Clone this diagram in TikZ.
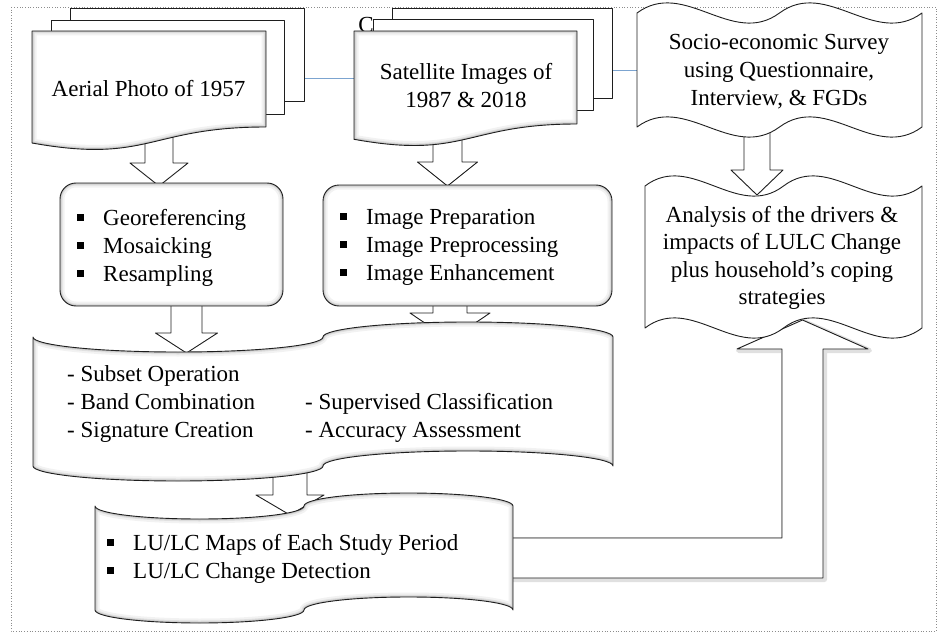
\documentclass[tikz,border=0pt]{standalone}
\usepackage{fontspec}
\setmainfont{Liberation Serif}
\definecolor{linkblue}{RGB}{124,164,208}
\definecolor{edge}{RGB}{30,30,30}
% square bullet followed by the gap before the item text
\newcommand\sqbul{\makebox[26pt][l]{\rule[4.5pt]{7pt}{7pt}}}
% soft inner shading along the border of a closed path
\newcommand\softedge[1]{%
  \begin{scope}
    \clip #1;
    \draw[line width=9pt, black, opacity=0.05] #1;
    \draw[line width=5pt, black, opacity=0.07] #1;
    \draw[line width=2.5pt, black, opacity=0.12] #1;
  \end{scope}}
\begin{document}
\begin{tikzpicture}[x=1pt, y=-1pt, line join=round]
\tikzset{
  outl/.style={draw=edge, line width=0.9pt, fill=white},
  shapeline/.style={draw=edge, line width=0.9pt},
  txt/.style={inner sep=0pt, font=\fontsize{23}{28}\selectfont, align=center},
  lst/.style={inner sep=0pt, font=\fontsize{23}{28}\selectfont, align=left, anchor=west},
  blockarrow/.style={draw=edge, line width=0.9pt, fill=white},
  link/.style={draw=linkblue, line width=0.9pt},
  frame/.style={draw=black!45, dotted, line width=0.7pt},
  pics/downblock/.style args={#1/#2/#3/#4}{code={
    \draw[blockarrow] (-#1,0) -- (#1,0) -- (#1,#3) -- (#2,#3) -- (0,#4)
      -- (-#2,#3) -- (-#1,#3) -- cycle;}}
}
\useasboundingbox (0,0) rectangle (938,634);

% dotted outer frame
\draw[frame] (11,7) rectangle (936,631);

% thin blue links between the three source groups
\coordinate (aerialR) at (304,78);
\coordinate (satL) at (354,78);
\coordinate (satR) at (612,70);
\coordinate (socL) at (637,70);
\draw[link] (aerialR) -- (satL);
\draw[link] (satR) -- (socL);

% block arrows (shapes drawn afterwards hide their ends)
\coordinate (aerialOut) at (159,128);
\coordinate (satOut) at (447.5,128);
\coordinate (geoOut) at (186.5,300);
\coordinate (imgOut) at (450,300);
\coordinate (classOut) at (290,460);
\coordinate (socOut) at (757,125);
\pic at (aerialOut) {downblock={14/29/35/58}};
\pic at (satOut) {downblock={14.5/30/34/58}};
\pic at (geoOut) {downblock={15.5/31/33/53}};
\pic at (imgOut) {downblock={17/40/13/40}};
\pic at (classOut) {downblock={17/34/35/55}};
\pic at (socOut) {downblock={13/26/45/70}};

% bent arrow from the map products up to the analysis
\def\bentarrow{(512,538) -- (782,538) -- (782,349) -- (737,349) -- (802.5,320)
  -- (868,349) -- (823,349) -- (823,578) -- (512,578) -- cycle}
\draw[line width=5pt, black, opacity=0.12, shift={(1.5,1.5)}] \bentarrow;
\draw[outl] \bentarrow;

% aerial photo: stacked documents
\draw[outl] (70,8) rectangle (304,101);
\draw[outl] (51,20) rectangle (284,114);
\def\aerialdoc{(32,31) -- (266,31) -- (266,127) .. controls (149,127) and (149,164) .. (32,143) -- cycle}
\fill[white] \aerialdoc;
\softedge{\aerialdoc}
\draw[shapeline] \aerialdoc;
\node[txt] (aerial) at (148.5,88.8) {Aerial Photo of 1957};

% satellite images: stacked documents
\draw[outl] (392,8) rectangle (612,98);
\draw[outl] (373,19) rectangle (593,110);
\node[txt] (satmark) at (366,25.4) {C};
\def\satdoc{(354,31) -- (577,31) -- (577,124) .. controls (465.5,124) and (465.5,159.5) .. (354,139.3) -- cycle}
\fill[white] \satdoc;
\softedge{\satdoc}
\draw[shapeline] \satdoc;
\node[txt] (sat) at (466,86) {Satellite Images of\\1987 \& 2018};

% socio-economic survey: double wave
\draw[outl] (637,13) .. controls (684.5,-22) and (732,48) .. (779.5,13)
  .. controls (827,-22) and (874.5,48) .. (922,13) -- (922,127)
  .. controls (874.5,162) and (827,92) .. (779.5,127)
  .. controls (732,162) and (684.5,92) .. (637,127) -- cycle;
\node[txt] (socio) at (779,72) {Socio-economic Survey\\using Questionnaire,\\Interview, \& FGDs};

% analysis: double wave
\draw[outl] (645,186) .. controls (691.17,151) and (737.33,221) .. (783.5,186)
  .. controls (829.67,151) and (875.83,221) .. (922,186) -- (922,328)
  .. controls (875.83,363) and (829.67,293) .. (783.5,328)
  .. controls (737.33,363) and (691.17,293) .. (645,328) -- cycle;
\node[txt, font=\fontsize{23}{27.5}\selectfont] (analysis) at (782,258)
  {Analysis of the drivers \&\\impacts of LULC Change\\plus household’s coping\\strategies};

% pre-processing boxes
\def\georect{[rounded corners=16pt] (60,183) rectangle (283,306)}
\def\imgrect{[rounded corners=16pt] (323,185) rectangle (612,306)}
\fill[white] \georect;
\softedge{\georect}
\draw[shapeline] \georect;
\fill[white] \imgrect;
\softedge{\imgrect}
\draw[shapeline] \imgrect;
\node[lst] (geo) at (77,247.6) {\sqbul Georeferencing\\\sqbul Mosaicking\\\sqbul Resampling};
\node[lst] (img) at (340,247.5) {\sqbul Image Preparation\\\sqbul Image Preprocessing\\\sqbul Image Enhancement};

% classification: punched tape
\def\classtape{(33,337) .. controls (33,345.3) and (97.9,352) .. (178,352)
  .. controls (258.1,352) and (323,345.3) .. (323,337)
  .. controls (323,328.7) and (387.9,322) .. (468,322)
  .. controls (548.1,322) and (613,328.7) .. (613,337) -- (613,466)
  .. controls (613,457.7) and (548.1,451) .. (468,451)
  .. controls (387.9,451) and (323,457.7) .. (323,466)
  .. controls (323,474.3) and (258.1,481) .. (178,481)
  .. controls (97.9,481) and (33,474.3) .. (33,466) -- cycle}
\fill[white] \classtape;
\softedge{\classtape}
\draw[shapeline] \classtape;
\node[lst] (classL) at (67,404) {- Subset Operation\\- Band Combination\\- Signature Creation};
\node[lst] (classR) at (305,417.6) {- Supervised Classification\\- Accuracy Assessment};

% outputs: punched tape
\def\maptape{(95,506) .. controls (95,513.2) and (141.8,519) .. (199.5,519)
  .. controls (257.2,519) and (304,513.2) .. (304,506)
  .. controls (304,498.8) and (350.8,493) .. (408.5,493)
  .. controls (466.2,493) and (513,498.8) .. (513,506) -- (513,610)
  .. controls (513,602.8) and (466.2,597) .. (408.5,597)
  .. controls (350.8,597) and (304,602.8) .. (304,610)
  .. controls (304,617.2) and (257.2,623) .. (199.5,623)
  .. controls (141.8,623) and (95,617.2) .. (95,610) -- cycle}
\fill[white] \maptape;
\softedge{\maptape}
\draw[shapeline] \maptape;
\node[lst] (maps) at (107,559) {\sqbul LU/LC Maps of Each Study Period\\\sqbul LU/LC Change Detection};
\end{tikzpicture}
\end{document}
